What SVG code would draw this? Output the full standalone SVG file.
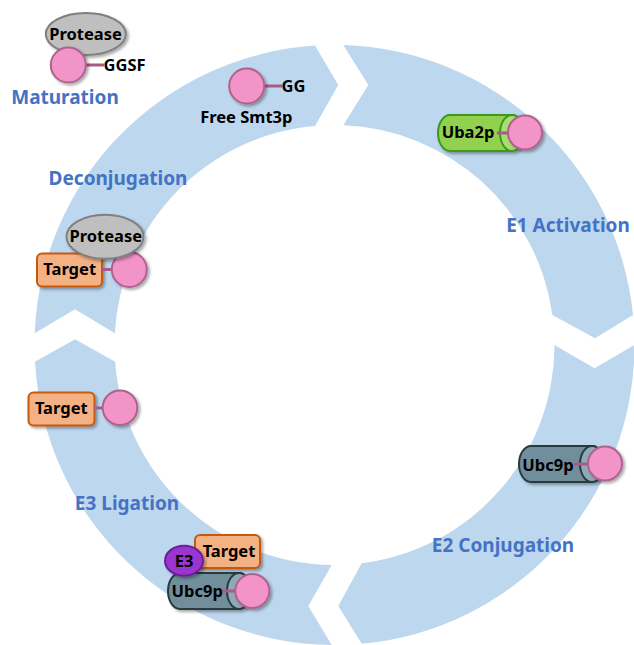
<svg xmlns="http://www.w3.org/2000/svg" width="634" height="645" viewBox="0 0 634 645">
<defs>
<filter id="sh" x="-30%" y="-30%" width="170%" height="170%">
<feDropShadow dx="2" dy="2" stdDeviation="1.5" flood-color="#000" flood-opacity="0.35"/>
</filter>
<style>
.ring{fill:#BDD7EE;}
.stage{font-family:"Noto Sans","DejaVu Sans",sans-serif;font-weight:bold;font-size:19px;fill:#4472C4;text-anchor:middle;}
.lbl{font-family:"Noto Sans","DejaVu Sans",sans-serif;font-weight:bold;font-size:16.5px;fill:#000;text-anchor:middle;}
.lbls{font-family:"Noto Sans","DejaVu Sans",sans-serif;font-weight:bold;font-size:16.5px;fill:#000;}
.smt{fill:#F394C9;stroke:#B0628E;stroke-width:2;filter:url(#sh);}
.link{stroke:#A85A88;stroke-width:3;}
.prot{fill:#BFBFBF;stroke:#7F7F7F;stroke-width:2;filter:url(#sh);}
.tgt{fill:#F4B183;stroke:#C55A11;stroke-width:2;filter:url(#sh);}
.uba{fill:#92D050;stroke:#3A9A1A;stroke-width:2;}
.ubaf{fill:#A9DC72;stroke:#3A9A1A;stroke-width:2;}
.ubc{fill:#6F8E9C;stroke:#2B3A40;stroke-width:2;}
.ubcf{fill:#8FAAB6;stroke:#2B3A40;stroke-width:2;}
.e3{fill:#9B35D0;stroke:#6B1F9B;stroke-width:2;filter:url(#sh);}
</style>
</defs>
<g id="connectors">
<path class="ring" d="M 343.3,45.1 A 300 300 0 0 1 633,315 L 595,338.3 L 552.4,315 A 220 220 0 0 0 343.3,125.2 L 368.3,85 Z"/>
<path class="ring" d="M 634.5,345 A 300 300 0 0 1 361.7,643.8 L 338.3,606 L 361.7,563.3 A 220 220 0 0 0 554.5,345 L 594.5,368.3 Z"/>
<path class="ring" d="M 331.7,645 A 300 300 0 0 1 35,361.7 L 75,339.3 L 115.1,361.7 A 220 220 0 0 0 331.7,565 L 308.3,606 Z"/>
<path class="ring" d="M 34.7,333.3 A 300 300 0 0 1 315,45.6 L 338.3,85 L 315,125.9 A 220 220 0 0 0 114.8,333.3 L 75,309.3 Z"/>
</g>
<g id="stage-labels">
<text class="stage" x="65" y="104">Maturation</text>
<text class="stage" x="118" y="185">Deconjugation</text>
<text class="stage" x="568" y="232">E1 Activation</text>
<text class="stage" x="503" y="552">E2 Conjugation</text>
<text class="stage" x="127" y="510">E3 Ligation</text>
</g>
<g id="maturation">
<ellipse class="prot" cx="85.8" cy="34" rx="40" ry="21"/>
<text class="lbl" x="85.5" y="40">Protease</text>
<line class="link" x1="84" y1="65" x2="104" y2="65"/>
<circle class="smt" cx="68.3" cy="65" r="17.5"/>
<text class="lbls" x="103.5" y="71">GGSF</text>
</g>
<g id="free-smt3p">
<line class="link" x1="262" y1="86" x2="282" y2="86"/>
<circle class="smt" cx="246.7" cy="86" r="17.5"/>
<text class="lbls" x="281.5" y="91.5">GG</text>
<text class="lbl" x="246.3" y="123">Free Smt3p</text>
</g>
<g id="e1-uba2p">
<g filter="url(#sh)">
<path class="uba" d="M 450,115 H 512 A 12 18 0 0 1 512,151 H 450 A 12 18 0 0 1 450,115 Z"/>
<ellipse class="ubaf" cx="512" cy="133" rx="12" ry="18"/>
</g>
<text class="lbl" x="468" y="138">Uba2p</text>
<line class="link" x1="497" y1="133" x2="510" y2="133"/>
<circle class="smt" cx="525" cy="132.5" r="17"/>
</g>
<g id="e2-ubc9p">
<g filter="url(#sh)">
<path class="ubc" d="M 531,446 H 592 A 12 18 0 0 1 592,482 H 531 A 12 18 0 0 1 531,446 Z"/>
<ellipse class="ubcf" cx="592" cy="464" rx="12" ry="18"/>
</g>
<text class="lbl" x="548" y="470.5">Ubc9p</text>
<line class="link" x1="574" y1="464" x2="590" y2="464"/>
<circle class="smt" cx="605" cy="463.5" r="17"/>
</g>
<g id="deconjugation">
<rect class="tgt" x="37" y="253.5" width="65" height="33" rx="5"/>
<text class="lbl" x="69.7" y="274.5">Target</text>
<line class="link" x1="102" y1="269.5" x2="114" y2="269.5"/>
<circle class="smt" cx="129.3" cy="269.5" r="17.5"/>
<ellipse class="prot" cx="105" cy="236.7" rx="38.5" ry="22"/>
<text class="lbl" x="105.8" y="242">Protease</text>
</g>
<g id="ligated-target">
<rect class="tgt" x="28.5" y="392.5" width="66" height="33" rx="5"/>
<text class="lbl" x="61.3" y="414">Target</text>
<line class="link" x1="94" y1="408" x2="105" y2="408"/>
<circle class="smt" cx="120" cy="407.7" r="17.3"/>
</g>
<g id="e3-complex">
<g filter="url(#sh)">
<path class="ubc" d="M 180,573 H 239 A 12 18 0 0 1 239,609 H 180 A 12 18 0 0 1 180,573 Z"/>
<ellipse class="ubcf" cx="239" cy="591" rx="12" ry="18"/>
</g>
<text class="lbl" x="197.2" y="597">Ubc9p</text>
<line class="link" x1="222" y1="591" x2="237" y2="591"/>
<circle class="smt" cx="252.3" cy="591" r="17"/>
<rect class="tgt" x="195" y="535" width="65" height="33" rx="5"/>
<text class="lbl" x="229" y="557">Target</text>
<ellipse class="e3" cx="184" cy="560.7" rx="19" ry="15"/>
<text class="lbl" x="184" y="566.5">E3</text>
</g>
</svg>
